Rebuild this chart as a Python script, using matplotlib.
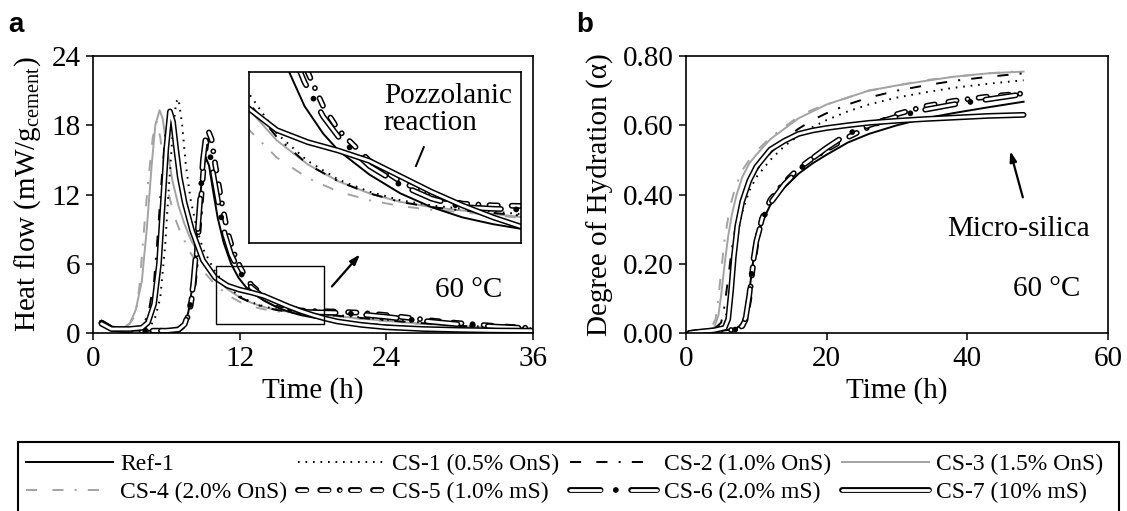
import numpy as np
import matplotlib
matplotlib.use("Agg")
import matplotlib.pyplot as plt
from matplotlib.patches import Rectangle
from matplotlib.legend_handler import HandlerTuple

plt.rcParams["font.family"] = "Liberation Serif"
plt.rcParams["mathtext.fontset"] = "custom"
plt.rcParams["mathtext.rm"] = "Liberation Serif"
plt.rcParams["mathtext.it"] = "Liberation Serif:italic"
plt.rcParams["lines.scale_dashes"] = False

grey = "#a3a3a3"

# ------------------------------------------ heat flow (panel a) ------------------------------------------ #
hf_t_ref1 = [0.7, 1.0, 1.5, 2.5, 4.0, 5.5, 6.5, 7.0, 7.5, 7.8, 8.1, 8.4, 8.7, 9.0, 9.2, 9.5, 9.8, 10.2, 10.7,
             11.3, 11.9, 12.5, 13.0, 14.0, 15.0, 16.0, 17.0, 18.0, 20.0, 22.0, 24.0, 27.0, 30.0, 33.0, 36.0]
hf_ref1 = [0.9, 0.7, 0.4, 0.25, 0.2, 0.2, 0.2, 0.3, 0.8, 1.8, 3.8, 7.0, 11.0, 14.3, 15.3, 14.5, 12.5, 10.0, 7.8,
           6.0, 4.8, 4.0, 3.5, 2.8, 2.25, 1.85, 1.55, 1.35, 1.05, 0.82, 0.65, 0.45, 0.32, 0.25, 0.2]

hf_t_cs1 = [0.7, 1.5, 3.0, 4.5, 5.0, 5.5, 5.9, 6.2, 6.5, 6.8, 7.0, 7.3, 7.6, 8.0, 8.5, 9.0, 10.0, 11.0, 12.0,
            13.0, 14.0, 15.0, 16.0, 17.0, 18.0, 20.0, 22.0, 24.0, 27.0, 30.0, 33.0, 36.0]
hf_cs1 = [0.8, 0.35, 0.35, 0.5, 1.0, 3.0, 7.5, 12.5, 17.0, 20.0, 20.3, 18.0, 14.5, 11.5, 9.0, 7.3, 5.3, 4.0, 3.2,
          2.65, 2.3, 2.05, 1.9, 1.8, 1.72, 1.55, 1.35, 1.15, 0.9, 0.65, 0.5, 0.4]

hf_t_cs2 = [0.7, 1.5, 3.0, 4.0, 4.5, 5.0, 5.3, 5.6, 5.9, 6.2, 6.5, 6.8, 7.2, 7.7, 8.2, 9.0, 10.0, 11.0, 12.0,
            13.0, 14.0, 15.0, 16.0, 17.0, 18.0, 20.0, 22.0, 24.0, 27.0, 30.0, 33.0, 36.0]
hf_cs2 = [0.8, 0.35, 0.4, 0.6, 1.5, 4.5, 8.5, 13.0, 17.0, 19.0, 18.0, 15.5, 12.5, 10.0, 8.3, 6.5, 5.0, 3.9, 3.1,
          2.6, 2.25, 2.0, 1.85, 1.75, 1.68, 1.5, 1.3, 1.1, 0.85, 0.62, 0.47, 0.36]

hf_t_cs3 = [0.7, 1.5, 2.5, 3.0, 3.5, 4.0, 4.4, 4.8, 5.1, 5.45, 5.7, 6.0, 6.5, 7.0, 7.5, 8.0, 9.0, 10.0, 11.0,
            12.0, 13.0, 14.0, 15.0, 16.0, 17.0, 18.0, 20.0, 22.0, 24.0, 27.0, 30.0, 33.0, 36.0]
hf_cs3 = [0.8, 0.4, 0.45, 0.8, 2.0, 4.5, 9.0, 14.5, 18.0, 19.3, 18.6, 16.4, 13.2, 11.0, 9.4, 8.1, 6.2, 4.8, 3.8,
          3.1, 2.6, 2.25, 2.0, 1.85, 1.75, 1.65, 1.45, 1.25, 1.05, 0.8, 0.6, 0.45, 0.35]

hf_t_cs4 = [0.7, 1.5, 2.5, 3.0, 3.5, 3.8, 4.1, 4.5, 4.9, 5.2, 5.5, 5.8, 6.2, 6.7, 7.2, 8.0, 9.0, 10.0, 11.0,
            12.0, 13.0, 14.0, 15.0, 16.0, 17.0, 18.0, 20.0, 22.0, 24.0, 27.0, 30.0, 33.0, 36.0]
hf_cs4 = [0.8, 0.4, 0.5, 0.8, 1.6, 4.0, 8.0, 13.0, 17.0, 18.3, 17.0, 14.5, 12.0, 10.0, 8.6, 6.9, 5.4, 4.2, 3.3,
          2.7, 2.3, 2.05, 1.88, 1.77, 1.7, 1.62, 1.42, 1.22, 1.02, 0.78, 0.58, 0.44, 0.34]

hf_t_cs5 = [0.7, 1.5, 2.5, 4.0, 6.0, 7.0, 7.5, 7.9, 8.2, 8.5, 8.8, 9.1, 9.4, 9.7, 10.0, 10.5, 11.0, 11.5, 12.0,
            12.5, 13.0, 14.0, 15.0, 16.0, 17.0, 18.0, 19.0, 20.0, 22.0, 24.0, 26.0, 28.0, 30.0, 33.0, 36.0]
hf_cs5 = [0.9, 0.4, 0.25, 0.2, 0.2, 0.3, 0.7, 1.8, 3.8, 7.0, 11.0, 15.0, 17.6, 16.8, 14.6, 11.5, 8.8, 7.0, 5.8,
          4.8, 4.1, 3.2, 2.6, 2.2, 1.95, 1.9, 1.88, 1.85, 1.75, 1.55, 1.3, 1.05, 0.85, 0.6, 0.42]

hf_t_cs6 = [0.7, 1.5, 2.5, 4.0, 6.0, 7.0, 7.5, 7.9, 8.2, 8.5, 8.8, 9.0, 9.2, 9.5, 9.8, 10.3, 10.8, 11.3, 11.9,
            12.5, 13.0, 14.0, 15.0, 16.0, 17.0, 18.0, 20.0, 22.0, 24.0, 26.0, 28.0, 30.0, 33.0, 36.0]
hf_cs6 = [0.9, 0.4, 0.25, 0.2, 0.2, 0.3, 0.75, 2.0, 4.2, 7.8, 12.0, 15.0, 16.7, 16.0, 14.0, 11.0, 8.5, 6.8, 5.5,
          4.5, 3.9, 3.05, 2.5, 2.1, 1.85, 1.8, 1.75, 1.6, 1.4, 1.15, 0.95, 0.75, 0.55, 0.4]

hf_t_cs7 = [0.7, 1.5, 3.0, 4.0, 4.5, 5.0, 5.4, 5.7, 6.0, 6.3, 6.55, 6.8, 7.1, 7.5, 8.1, 9.0, 10.0, 11.0, 12.0,
            13.0, 14.0, 15.0, 16.0, 17.0, 18.0, 19.0, 20.0, 22.0, 24.0, 27.0, 30.0, 33.0, 36.0]
hf_cs7 = [0.8, 0.35, 0.35, 0.45, 0.9, 2.5, 6.0, 11.0, 16.0, 19.2, 18.3, 16.0, 13.5, 11.3, 8.9, 6.3, 4.8, 4.1, 3.75,
          3.5, 3.2, 2.75, 2.3, 1.9, 1.55, 1.25, 1.0, 0.7, 0.5, 0.35, 0.27, 0.22, 0.2]

# ------------------------------------------ degree of hydration (panel b) ------------------------------------------ #
dh_t_ref1 = [0.5, 2, 5, 7, 8.0, 8.5, 9.0, 9.5, 10, 10.8, 12, 14, 16, 18, 20, 23, 26, 30, 34, 38, 43, 48]
dh_ref1 = [0.0, 0.003, 0.006, 0.012, 0.025, 0.05, 0.12, 0.2, 0.26, 0.32, 0.37, 0.42, 0.46, 0.49, 0.515, 0.55,
           0.575, 0.6, 0.62, 0.635, 0.652, 0.668]

dh_t_cs1 = [0.5, 2, 4, 5.5, 6.0, 6.5, 7.0, 7.5, 8, 9, 10, 12, 14, 16, 18, 20, 23, 26, 30, 34, 38, 43, 48]
dh_cs1 = [0.0, 0.005, 0.01, 0.03, 0.08, 0.16, 0.24, 0.3, 0.35, 0.41, 0.45, 0.5, 0.54, 0.57, 0.595, 0.615, 0.64,
          0.66, 0.68, 0.695, 0.708, 0.72, 0.73]

dh_t_cs2 = [0.5, 2, 4, 5.0, 5.5, 6.0, 6.5, 7.0, 8, 9, 10, 12, 14, 16, 18, 20, 23, 26, 30, 34, 38, 43, 48]
dh_cs2 = [0.0, 0.005, 0.012, 0.03, 0.08, 0.16, 0.24, 0.3, 0.38, 0.43, 0.47, 0.52, 0.56, 0.59, 0.615, 0.635,
          0.66, 0.68, 0.7, 0.715, 0.728, 0.74, 0.75]

dh_t_cs3 = [0.5, 2, 4, 4.6, 5.0, 5.5, 6.0, 6.5, 7.2, 8, 9, 10, 12, 14, 16, 18, 20, 23, 26, 30, 34, 38, 43, 48]
dh_cs3 = [0.0, 0.005, 0.015, 0.05, 0.11, 0.2, 0.28, 0.34, 0.4, 0.45, 0.49, 0.515, 0.56, 0.59, 0.62, 0.64, 0.66,
          0.68, 0.7, 0.715, 0.728, 0.74, 0.75, 0.755]

dh_t_cs4 = [0.5, 2, 3.5, 4.2, 4.6, 5.0, 5.5, 6.2, 7, 8, 9, 10, 12, 14, 16, 18, 20, 23, 26, 30, 34, 38, 43, 48]
dh_cs4 = [0.0, 0.005, 0.012, 0.04, 0.1, 0.18, 0.27, 0.36, 0.42, 0.47, 0.5, 0.525, 0.565, 0.595, 0.625, 0.645,
          0.66, 0.68, 0.7, 0.715, 0.73, 0.74, 0.75, 0.757]

dh_t_cs5 = [0.5, 2, 5, 7, 8.0, 8.5, 9.0, 9.5, 10, 10.8, 12, 14, 16, 18, 20, 23, 26, 30, 34, 38, 43, 48]
dh_cs5 = [0.0, 0.003, 0.006, 0.01, 0.02, 0.04, 0.1, 0.19, 0.26, 0.33, 0.385, 0.435, 0.475, 0.505, 0.53, 0.565,
          0.595, 0.632, 0.655, 0.67, 0.683, 0.692]

dh_t_cs6 = [0.5, 2, 5, 7, 8.0, 8.5, 9.0, 9.5, 10, 10.8, 12, 14, 16, 18, 20, 23, 26, 30, 34, 38, 43, 48]
dh_cs6 = [0.0, 0.003, 0.006, 0.01, 0.02, 0.045, 0.11, 0.2, 0.265, 0.325, 0.375, 0.43, 0.47, 0.505, 0.535, 0.575,
          0.6, 0.625, 0.645, 0.66, 0.675, 0.69]

dh_t_cs7 = [0.5, 2, 4, 5.5, 6.0, 6.4, 6.8, 7.3, 8, 9, 10, 12, 14, 16, 18, 20, 23, 26, 30, 34, 38, 43, 48]
dh_cs7 = [0.0, 0.004, 0.008, 0.015, 0.04, 0.12, 0.22, 0.31, 0.38, 0.44, 0.48, 0.53, 0.555, 0.575, 0.585, 0.592,
          0.6, 0.607, 0.613, 0.618, 0.622, 0.627, 0.63]

names = ["CS-3", "CS-4", "CS-1", "CS-2", "Ref-1", "CS-5", "CS-6", "CS-7"]
labels = {"Ref-1": "Ref-1", "CS-1": "CS-1 (0.5% OnS)", "CS-2": "CS-2 (1.0% OnS)", "CS-3": "CS-3 (1.5% OnS)",
          "CS-4": "CS-4 (2.0% OnS)", "CS-5": "CS-5 (1.0% mS)", "CS-6": "CS-6 (2.0% mS)", "CS-7": "CS-7 (10% mS)"}
heat = {"Ref-1": (hf_t_ref1, hf_ref1), "CS-1": (hf_t_cs1, hf_cs1), "CS-2": (hf_t_cs2, hf_cs2),
        "CS-3": (hf_t_cs3, hf_cs3), "CS-4": (hf_t_cs4, hf_cs4), "CS-5": (hf_t_cs5, hf_cs5),
        "CS-6": (hf_t_cs6, hf_cs6), "CS-7": (hf_t_cs7, hf_cs7)}
hydr = {"Ref-1": (dh_t_ref1, dh_ref1), "CS-1": (dh_t_cs1, dh_cs1), "CS-2": (dh_t_cs2, dh_cs2),
        "CS-3": (dh_t_cs3, dh_cs3), "CS-4": (dh_t_cs4, dh_cs4), "CS-5": (dh_t_cs5, dh_cs5),
        "CS-6": (dh_t_cs6, dh_cs6), "CS-7": (dh_t_cs7, dh_cs7)}

dash_dot = (0, (8, 11, 8, 8, 1.5, 8))
styles = {
    "Ref-1": dict(double=False, color="black", ls="-"),
    "CS-1": dict(double=False, color="black", ls=(0, (1.2, 4.2))),
    "CS-2": dict(double=False, color="black", ls=dash_dot),
    "CS-3": dict(double=False, color=grey, ls="-"),
    "CS-4": dict(double=False, color=grey, ls=dash_dot),
    "CS-5": dict(double=True, outer=(0, (6, 10, 6, 8, 0.01, 8)), inner=(0, (6, 10, 6, 8, 0.01, 8))),
    "CS-6": dict(double=True, outer=(0, (22, 11, 0.01, 11)), inner=(0, (22, 22.01))),
    "CS-7": dict(double=True, outer="-", inner="-"),
}


def draw(ax, t, y, name):
    st = styles[name]
    if not st["double"]:
        line, = ax.plot(t, y, color=st["color"], ls=st["ls"], lw=1.4, dash_capstyle="butt")
        return line
    lo, = ax.plot(t, y, color="black", ls=st["outer"], lw=4.2, dash_capstyle="round", solid_capstyle="round")
    li, = ax.plot(t, y, color="white", ls=st["inner"], lw=2.0, dash_capstyle="round", solid_capstyle="round")
    return (lo, li)


def style_axis(ax):
    for sp in ax.spines.values():
        sp.set_linewidth(1.2)
    ax.tick_params(direction="out", length=5, width=1.1, labelsize=21, pad=4)


fig = plt.figure(figsize=(11.27, 5.11), dpi=100)
ax_a = fig.add_axes([0.0825, 0.3483, 0.3904, 0.5421])
ax_b = fig.add_axes([0.6087, 0.3483, 0.3744, 0.5421])
ax_in = fig.add_axes([0.2209, 0.5245, 0.2413, 0.3346])

handles = {}
for n in names:
    handles[n] = draw(ax_a, *heat[n], n)
    draw(ax_in, *heat[n], n)
    draw(ax_b, *hydr[n], n)

# panel a
ax_a.set_xlim(0, 36)
ax_a.set_ylim(0, 24)
ax_a.set_xticks([0, 12, 24, 36])
ax_a.set_yticks([0, 6, 12, 18, 24])
ax_a.set_xlabel("Time (h)", fontsize=21)
ax_a.set_ylabel("Heat flow (mW/g$_{\\mathrm{cement}}$)", fontsize=21, labelpad=6)
style_axis(ax_a)
ax_a.add_patch(Rectangle((10.1, 0.8), 8.8, 5.0, fill=False, lw=1.0, ec="black", zorder=5))
ax_a.annotate("", xy=(22.0, 7.0), xytext=(19.4, 3.85),
              arrowprops=dict(arrowstyle="-|>,head_length=0.6,head_width=0.2", color="black", lw=1.6))
ax_a.text(33.5, 3.7, "60 °C", fontsize=21, ha="right", va="center")

# inset
ax_in.set_xlim(10.1, 18.9)
ax_in.set_ylim(0.8, 5.8)
ax_in.set_xticks([])
ax_in.set_yticks([])
for sp in ax_in.spines.values():
    sp.set_linewidth(1.2)
ax_in.text(0.496, 0.78, "Pozzolanic\nreaction", transform=ax_in.transAxes, fontsize=21,
           ha="left", va="center", linespacing=1.05, zorder=10)
ax_in.plot([0.643, 0.614], [0.561, 0.45], transform=ax_in.transAxes, color="black", lw=1.4, zorder=10)

# panel b
ax_b.set_xlim(0, 60)
ax_b.set_ylim(0, 0.8)
ax_b.set_xticks([0, 20, 40, 60])
ax_b.set_yticks([0, 0.2, 0.4, 0.6, 0.8])
ax_b.set_yticklabels([f"{v:.2f}" for v in [0, 0.2, 0.4, 0.6, 0.8]])
ax_b.set_xlabel("Time (h)", fontsize=21)
ax_b.set_ylabel("Degree of Hydration (α)", fontsize=21, labelpad=6)
style_axis(ax_b)
ax_b.text(56.1, 0.128, "60 °C", fontsize=21, ha="right", va="center")
ax_b.text(57.5, 0.30, "Micro-silica", fontsize=21, ha="right", va="center")
ax_b.annotate("", xy=(46.0, 0.533), xytext=(48.0, 0.384),
              arrowprops=dict(arrowstyle="-|>,head_length=0.6,head_width=0.2", color="black", lw=1.6))

fig.text(8 / 1127, 1 - 32 / 511, "a", fontsize=20, fontweight="bold", family="Liberation Sans", va="baseline")
fig.text(576 / 1127, 1 - 32 / 511, "b", fontsize=20, fontweight="bold", family="Liberation Sans", va="baseline")

# legend, filled row by row
order = ["Ref-1", "CS-4", "CS-1", "CS-5", "CS-2", "CS-6", "CS-3", "CS-7"]
fig.legend([handles[n] for n in order], [labels[n] for n in order], ncol=4, loc="upper left",
           bbox_to_anchor=(0.006, 0.150, 0.99, 0.0), mode="expand", frameon=False, fontsize=17,
           handlelength=3.7, handletextpad=0.3, borderpad=0.3, labelspacing=0.3,
           handler_map={tuple: HandlerTuple(ndivide=1)})
fig.add_artist(Rectangle((0.016, -0.05), 0.977, 0.185, transform=fig.transFigure, fill=False,
                         lw=1.5, ec="black", clip_on=False))

fig.savefig("out.png", dpi=100)
